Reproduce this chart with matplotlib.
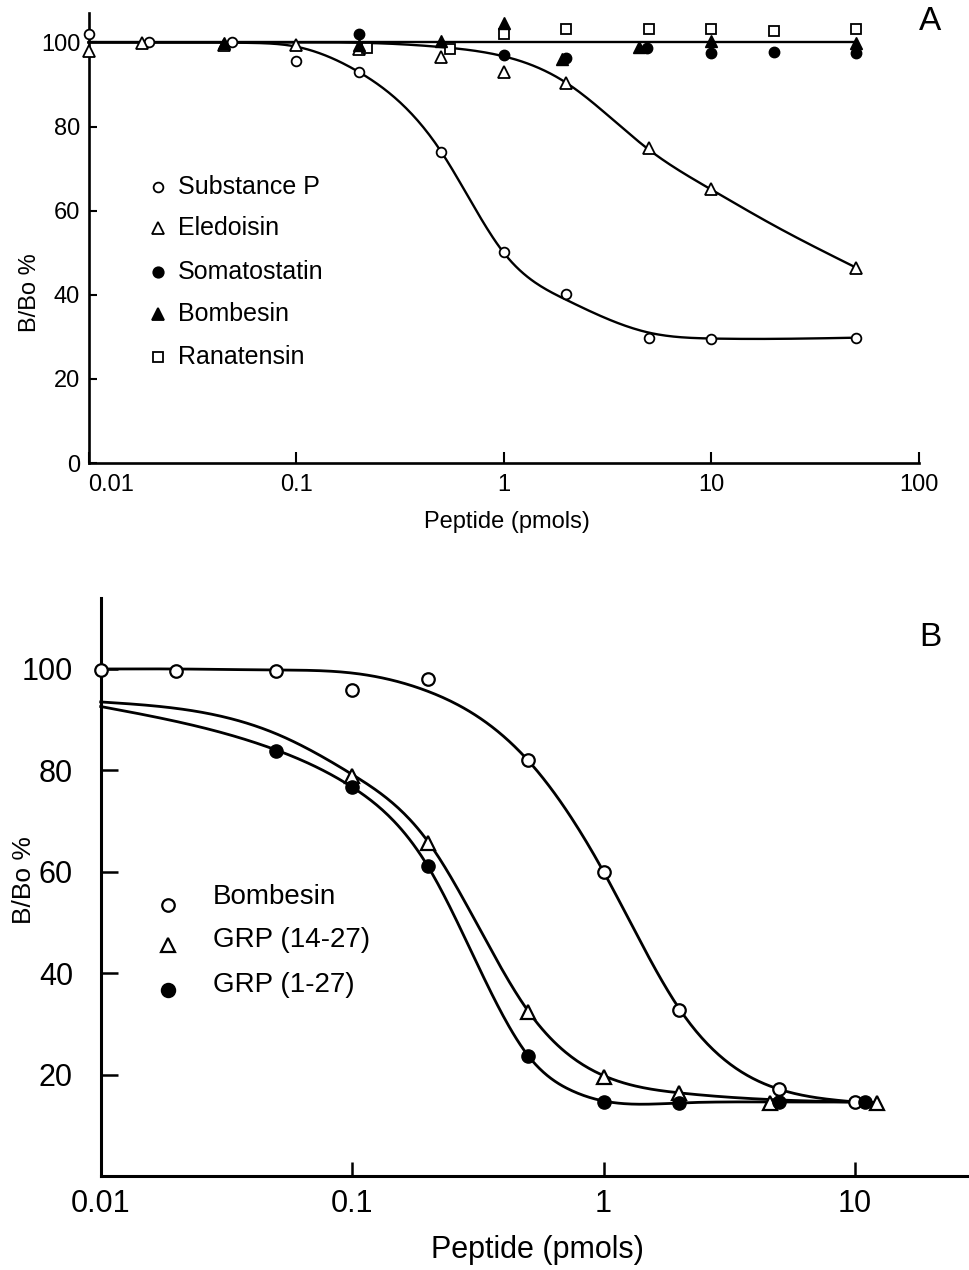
import numpy as np
import matplotlib
matplotlib.use("Agg")
import matplotlib.pyplot as plt

plt.rcParams['font.family'] = ['Liberation Sans', 'DejaVu Sans']

# ---------------- Panel A data ----------------
A_sp_x = [0.01, 0.0195, 0.049, 0.1, 0.2, 0.5, 1, 2, 5, 10, 50]
A_sp_y = [102, 100, 100, 95.5, 92.9, 74.0, 50.2, 40.1, 29.8, 29.5, 29.8]
A_el_x = [0.01, 0.018, 0.045, 0.1, 0.2, 0.5, 1, 2, 5, 10, 50]
A_el_y = [97.9, 99.8, 99.5, 99.3, 98.5, 96.6, 92.9, 90.4, 74.9, 65.1, 46.4]
A_som_x = [0.2, 1, 2, 4.9, 10, 20, 50]
A_som_y = [102, 96.9, 96.3, 98.6, 97.5, 97.7, 97.5]
A_bom_x = [0.045, 0.2, 0.5, 1, 1.9, 4.5, 10, 50]
A_bom_y = [99.8, 99.5, 100.3, 104.7, 96.0, 98.8, 100.3, 99.9]
A_ran_x = [0.22, 0.55, 1, 2, 5, 10, 20, 50]
A_ran_y = [98.7, 98.5, 102, 103.1, 103.1, 103.1, 102.7, 103.1]

# fitted curves (knots)
A_sp_cx = [0.01, 0.03, 0.06, 0.1, 0.2, 0.5, 1, 2, 5, 10, 50]
A_sp_cy = [100, 100, 99.9, 99, 93, 74, 50, 38.8, 31, 29.6, 29.8]
A_el_cx = [0.01, 0.1, 0.25, 0.5, 1, 2, 5, 10, 20, 50]
A_el_cy = [100, 100, 99.8, 98.9, 96.7, 90.4, 74.5, 65, 56.5, 46.4]
A_flat_cx = [0.01, 50]
A_flat_cy = [100, 100]

A_legend = ["Substance P", "Eledoisin", "Somatostatin", "Bombesin", "Ranatensin"]

# ---------------- Panel B data ----------------
B_bom_x = [0.01, 0.02, 0.05, 0.1, 0.2, 0.5, 1, 2, 5, 10]
B_bom_y = [99.8, 99.7, 99.7, 95.8, 98.1, 82, 59.9, 32.8, 17.1, 14.6]
B_g14_x = [0.1, 0.2, 0.5, 1, 2, 4.6, 12.2]
B_g14_y = [78.9, 65.7, 32.4, 19.6, 16.3, 14.3, 14.3]
B_g1_x = [0.05, 0.1, 0.2, 0.5, 1, 2, 5, 11]
B_g1_y = [83.9, 76.7, 61.1, 23.6, 14.6, 14.4, 14.6, 14.6]

B_bom_cx = [0.01, 0.02, 0.05, 0.1, 0.2, 0.5, 1, 2, 5, 10]
B_bom_cy = [100, 100, 99.8, 99.2, 95.6, 82, 60, 33, 17.1, 14.6]
B_g14_cx = [0.01, 0.05, 0.1, 0.2, 0.5, 1, 2, 5, 12.2]
B_g14_cy = [93.5, 87.2, 79.2, 66.0, 32.6, 19.8, 16.4, 15.0, 14.5]
B_g1_cx = [0.01, 0.05, 0.1, 0.2, 0.5, 0.75, 1, 2, 5, 11]
B_g1_cy = [92.6, 84.0, 76.7, 61.1, 23.8, 16.8, 14.8, 14.4, 14.6, 14.6]

B_legend = ["Bombesin", "GRP (14-27)", "GRP (1-27)"]


def spline_log(xk, yk, n=400):
    """Natural cubic spline through knots, in log10(x)."""
    x = np.log10(np.asarray(xk, float))
    y = np.asarray(yk, float)
    xs = np.linspace(x[0], x[-1], n)
    if len(x) == 2:
        return 10 ** xs, np.interp(xs, x, y)
    N = len(x)
    h = np.diff(x)
    A = np.zeros((N, N))
    r = np.zeros(N)
    A[0, 0] = A[-1, -1] = 1.0
    for i in range(1, N - 1):
        A[i, i - 1] = h[i - 1]
        A[i, i] = 2 * (h[i - 1] + h[i])
        A[i, i + 1] = h[i]
        r[i] = 6 * ((y[i + 1] - y[i]) / h[i] - (y[i] - y[i - 1]) / h[i - 1])
    M = np.linalg.solve(A, r)
    idx = np.clip(np.searchsorted(x, xs) - 1, 0, N - 2)
    x0, x1 = x[idx], x[idx + 1]
    hh = h[idx]
    ys = (M[idx] * (x1 - xs) ** 3 / (6 * hh) + M[idx + 1] * (xs - x0) ** 3 / (6 * hh)
          + (y[idx] / hh - M[idx] * hh / 6) * (x1 - xs)
          + (y[idx + 1] / hh - M[idx + 1] * hh / 6) * (xs - x0))
    return 10 ** xs, ys


W, H = 969, 1270
fig = plt.figure(figsize=(W / 100, H / 100), dpi=100)

# ---------------- Panel A ----------------
axA = fig.add_axes([88.5 / W, 1 - 463 / H, (919 - 88.5) / W, (463 - 13) / H])
axA.set_xscale('log')
axA.set_xlim(0.01, 100)
axA.set_ylim(0, 107)
lwA = 1.7
for cx, cy in [(A_flat_cx, A_flat_cy), (A_sp_cx, A_sp_cy), (A_el_cx, A_el_cy)]:
    xs, ys = spline_log(cx, cy)
    axA.plot(xs, ys, color='black', lw=lwA, zorder=2, clip_on=False)

mk = dict(linestyle='none', clip_on=False, zorder=4)
axA.plot(A_sp_x, A_sp_y, marker='o', ms=7, mfc='white', mec='black', mew=1.3, **mk)
axA.plot(A_el_x, A_el_y, marker='^', ms=8, mfc='white', mec='black', mew=1.3, **mk)
axA.plot(A_ran_x, A_ran_y, marker='s', ms=7, mfc='white', mec='black', mew=1.3, **mk)
axA.plot(A_som_x, A_som_y, marker='o', ms=7.5, mfc='black', mec='black', mew=1, **mk)
axA.plot(A_bom_x, A_bom_y, marker='^', ms=8.5, mfc='black', mec='black', mew=1, **mk)

for s in ['top', 'right']:
    axA.spines[s].set_visible(False)
for s in ['left', 'bottom']:
    axA.spines[s].set_linewidth(1.9)
axA.set_xticks([0.01, 0.1, 1, 10, 100])
axA.set_xticklabels(['0.01', '0.1', '1', '10', '100'])
axA.xaxis.set_minor_locator(matplotlib.ticker.NullLocator())
axA.set_yticks([0, 20, 40, 60, 80, 100])
axA.tick_params(axis='x', direction='in', length=8, width=1.5, pad=8, labelsize=17)
axA.tick_params(axis='y', direction='in', length=6, width=1.5, pad=6, labelsize=17)
axA.get_xticklabels()[0].set_ha('left')

# legend A
leg_mk = [('o', 'white', 7), ('^', 'white', 8), ('o', 'black', 7.5), ('^', 'black', 8.5), ('s', 'white', 7)]
leg_y = [187, 228, 272, 314, 357]
for (m, fc, ms), lab, py in zip(leg_mk, A_legend, leg_y):
    yy = (463 - py) / 450
    axA.plot([(158 - 88.5) / 830.5], [yy], marker=m, ms=ms, mfc=fc, mec='black',
             mew=1.3, transform=axA.transAxes, clip_on=False, linestyle='none')
    axA.text((178 - 88.5) / 830.5, yy, lab, transform=axA.transAxes, va='center',
             ha='left', fontsize=18)

fig.text(930 / W, 1 - 22 / H, 'A', fontsize=24, ha='center', va='center')
fig.text(507 / W, 1 - 522 / H, 'Peptide (pmols)', fontsize=17, ha='center', va='center')
fig.text(30 / W, 1 - 293 / H, 'B/Bo %', fontsize=17, ha='center', va='center', rotation=90)

# ---------------- Panel B ----------------
axB = fig.add_axes([100.7 / W, 1 - 1176 / H, (W - 100.7) / W, (1176 - 598) / H])
axB.set_xscale('log')
axB.set_xlim(0.01, 28.4)
axB.set_ylim(0, 114)
lwB = 2.0
for cx, cy in [(B_bom_cx, B_bom_cy), (B_g14_cx, B_g14_cy), (B_g1_cx, B_g1_cy)]:
    xs, ys = spline_log(cx, cy)
    axB.plot(xs, ys, color='black', lw=lwB, zorder=2, clip_on=False)

axB.plot(B_bom_x, B_bom_y, marker='o', ms=9, mfc='white', mec='black', mew=1.6, **mk)
axB.plot(B_g14_x, B_g14_y, marker='^', ms=10, mfc='white', mec='black', mew=1.6, **mk)
axB.plot(B_g1_x, B_g1_y, marker='o', ms=9.5, mfc='black', mec='black', mew=1, **mk)

for s in ['top', 'right']:
    axB.spines[s].set_visible(False)
for s in ['left', 'bottom']:
    axB.spines[s].set_linewidth(2.2)
axB.set_xticks([0.01, 0.1, 1, 10])
axB.set_xticklabels(['0.01', '0.1', '1', '10'])
axB.xaxis.set_minor_locator(matplotlib.ticker.NullLocator())
axB.set_yticks([20, 40, 60, 80, 100])
axB.tick_params(axis='x', direction='in', length=10, width=1.8, pad=9, labelsize=22)
axB.tick_params(axis='y', direction='in', length=12, width=1.8, pad=20, labelsize=22)

legB_mk = [('o', 'white', 9), ('^', 'white', 10), ('o', 'black', 9.5)]
legB_my = [905, 945, 990]
legB_ty = [897, 940, 985]
for (m, fc, ms), lab, pm, pt in zip(legB_mk, B_legend, legB_my, legB_ty):
    axB.plot([(168 - 100.7) / 868.3], [(1176 - pm) / 578], marker=m, ms=ms, mfc=fc,
             mec='black', mew=1.6, transform=axB.transAxes, clip_on=False, linestyle='none')
    axB.text((213 - 100.7) / 868.3, (1176 - pt) / 578, lab, transform=axB.transAxes,
             va='center', ha='left', fontsize=20)

fig.text(930 / W, 1 - 637 / H, 'B', fontsize=24, ha='center', va='center')
fig.text(537 / W, 1 - 1250 / H, 'Peptide (pmols)', fontsize=22, ha='center', va='center')
fig.text(24 / W, 1 - 880 / H, 'B/Bo %', fontsize=19, ha='center', va='center', rotation=90)

fig.savefig('out.png', dpi=100)
